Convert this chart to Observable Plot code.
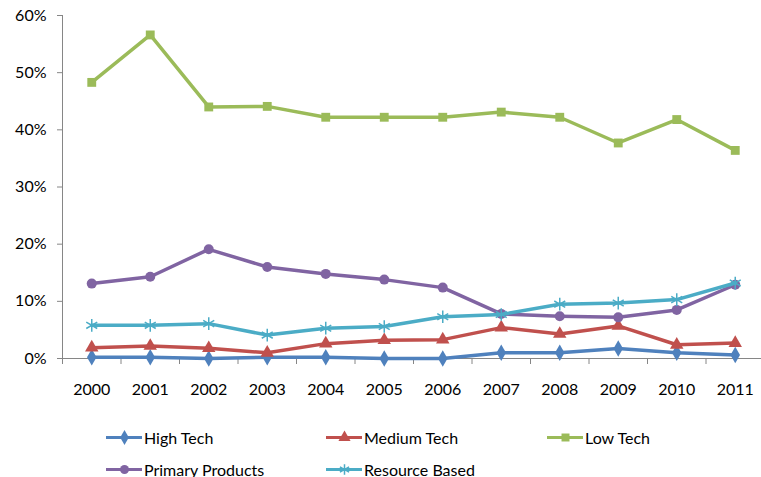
<!DOCTYPE html>
<html>
<head>
<meta charset="utf-8">
<script src="https://cdn.jsdelivr.net/npm/d3@7"></script>
<script src="https://cdn.jsdelivr.net/npm/@observablehq/plot@0.6"></script>
<style>
  html, body { margin: 0; padding: 0; background: #fff; }
  body { width: 761px; height: 477px; position: relative; overflow: hidden; font-family: Lato, "Open Sans", sans-serif; }
  #legend { position: absolute; left: 0; top: 0; width: 761px; height: 477px; pointer-events: none; }
  .item { position: absolute; display: flex; align-items: center; font-size: 16px; color: #000; white-space: nowrap; }
  .item svg { margin-right: 2px; }
</style>
</head>
<body>
<div id="chart"></div>
<div id="legend"></div>
<script>
const years = [2000, 2001, 2002, 2003, 2004, 2005, 2006, 2007, 2008, 2009, 2010, 2011];
const seriesNames = ["High Tech", "Medium Tech", "Low Tech", "Primary Products", "Resource Based"];
const highTech       = [0.2, 0.2, 0.0, 0.2, 0.2, 0.0, 0.0, 1.0, 1.0, 1.75, 1.0, 0.6];
const mediumTech     = [1.9, 2.2, 1.8, 1.0, 2.6, 3.2, 3.3, 5.4, 4.3, 5.7, 2.4, 2.7];
const lowTech        = [48.3, 56.6, 44.0, 44.1, 42.2, 42.2, 42.2, 43.1, 42.2, 37.7, 41.8, 36.4];
const primaryProducts= [13.1, 14.3, 19.1, 16.0, 14.8, 13.8, 12.4, 7.8, 7.4, 7.2, 8.5, 12.9];
const resourceBased  = [5.8, 5.8, 6.1, 4.1, 5.3, 5.6, 7.3, 7.7, 9.5, 9.7, 10.3, 13.2];
const yTicks = [0, 0.1, 0.2, 0.3, 0.4, 0.5, 0.6];

const colors = ["#4F81BD", "#C0504D", "#9BBB59", "#8064A2", "#4BACC6"];
const symbols = ["diamond", "triangle", "square", "circle", "asterisk"];
const allValues = [highTech, mediumTech, lowTech, primaryProducts, resourceBased];

const data = [];
seriesNames.forEach((s, i) => {
  years.forEach((y, j) => data.push({series: s, year: y, value: allValues[i][j] / 100}));
});
const boundaries = years.map(y => y - 0.5).concat([years[years.length - 1] + 0.5]);

const W = 761, H = 410;
const marks = [
  Plot.ruleY([0], {stroke: "#868686", strokeWidth: 1}),
  Plot.ruleX([years[0] - 0.5], {stroke: "#868686", strokeWidth: 1}),
  Plot.axisY({ticks: yTicks, tickFormat: d3.format(".0%"), tickSize: 5, tickPadding: 11, stroke: "#868686", fontSize: 16, fill: "#000", label: null}),
  Plot.axisX({ticks: boundaries, tickSize: 6, text: null, stroke: "#868686", label: null}),
  Plot.axisX({ticks: years, tickFormat: d => String(d), tickSize: 0, tickPadding: 25, fontSize: 16, fill: "#000", label: null})
];
seriesNames.forEach((s, i) => {
  const d = data.filter(r => r.series === s);
  marks.push(Plot.line(d, {x: "year", y: "value", stroke: colors[i], strokeWidth: 3.5}));
  if (symbols[i] === "asterisk") {
    marks.push(Plot.dot(d, {x: "year", y: "value", symbol: "asterisk", stroke: colors[i], strokeWidth: 1.5, r: 6}));
  } else {
    marks.push(Plot.dot(d, {x: "year", y: "value", symbol: symbols[i], fill: colors[i], stroke: "none", r: 5}));
  }
});

const chart = Plot.plot({
  width: W, height: H,
  marginTop: 15, marginBottom: 52, marginLeft: 62, marginRight: 0,
  style: {fontFamily: "Lato, 'Open Sans', sans-serif", fontSize: "16px", color: "#000", background: "#fff"},
  x: {type: "linear", domain: [years[0] - 0.5, years[years.length - 1] + 0.5], range: [62, 764]},
  y: {domain: [0, 0.6]},
  marks
});
document.getElementById("chart").appendChild(chart);

// Legend
const legendPos = [[106, 437], [326, 437], [547, 437], [106, 469], [326, 469]];
const leg = document.getElementById("legend");
seriesNames.forEach((s, i) => {
  const div = document.createElement("div");
  div.className = "item";
  div.style.left = legendPos[i][0] + "px";
  div.style.top = (legendPos[i][1] - 10) + "px";
  div.style.height = "20px";
  const sym = Plot.plot({
    width: 36, height: 20, margin: 0,
    x: {domain: [0, 1], range: [0, 36], axis: null},
    y: {domain: [0, 1], range: [20, 0], axis: null},
    marks: [
      Plot.ruleY([0.5], {x1: 0, x2: 1, stroke: colors[i], strokeWidth: 3}),
      symbols[i] === "asterisk"
        ? Plot.dot([{x: 0.5, y: 0.5}], {x: "x", y: "y", symbol: "asterisk", stroke: colors[i], strokeWidth: 1.5, r: 5})
        : Plot.dot([{x: 0.5, y: 0.5}], {x: "x", y: "y", symbol: symbols[i], fill: colors[i], r: 4.5})
    ]
  });
  div.appendChild(sym);
  const t = document.createElement("span");
  t.textContent = s;
  div.appendChild(t);
  leg.appendChild(div);
});
</script>
</body>
</html>
